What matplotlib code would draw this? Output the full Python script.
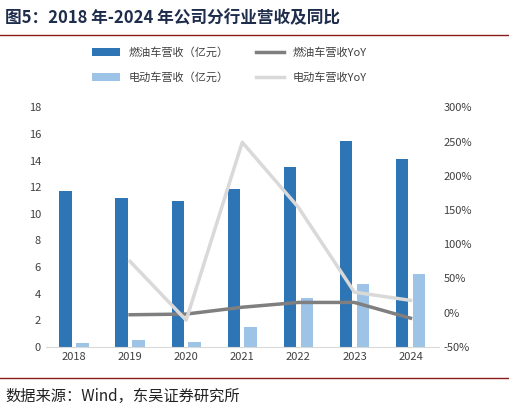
import matplotlib
matplotlib.use("Agg")
import matplotlib.pyplot as plt
import numpy as np
from matplotlib.ticker import FuncFormatter

plt.rcParams['font.family'] = ['Noto Sans CJK SC', 'DejaVu Sans']

years = ['2018', '2019', '2020', '2021', '2022', '2023', '2024']
fuel_rev = [11.7, 11.2, 11.0, 11.9, 13.5, 15.5, 14.1]
ev_rev = [0.3, 0.5, 0.4, 1.5, 3.7, 4.7, 5.5]
fuel_yoy = [None, -3, -2, 8, 15, 15, -8]
ev_yoy = [None, 75, -11, 249, 154, 30, 18]

fig = plt.figure(figsize=(5.10, 4.13), dpi=100)
ax = fig.add_axes([0.09, 0.16, 0.77, 0.58])
x = np.arange(len(years))
w = 0.22
ax.bar(x - 0.15, fuel_rev, w, color='#2E75B6', label='燃油车营收（亿元）')
ax.bar(x + 0.15, ev_rev, w, color='#9DC3E6', label='电动车营收（亿元）')
ax.set_ylim(0, 18)
ax.set_yticks(range(0, 19, 2))
ax.set_xticks(x)
ax.set_xticklabels(years)
ax.set_xlim(-0.5, len(years) - 0.5)
for s in ['top', 'right', 'left']:
    ax.spines[s].set_visible(False)
ax.spines['bottom'].set_color('#D9D9D9')
ax.tick_params(length=0, labelsize=8, colors='#404040')

ax2 = ax.twinx()
xs = x[1:]
ax2.plot(xs, fuel_yoy[1:], color='#7F7F7F', lw=2.5, label='燃油车营收YoY')
ax2.plot(xs, ev_yoy[1:], color='#D9D9D9', lw=2.5, label='电动车营收YoY')
ax2.set_ylim(-50, 300)
ax2.set_yticks(range(-50, 301, 50))
ax2.yaxis.set_major_formatter(FuncFormatter(lambda v, p: f'{int(v)}%'))
for s in ['top', 'right', 'left', 'bottom']:
    ax2.spines[s].set_visible(False)
ax2.tick_params(length=0, labelsize=8, colors='#404040')

h1, l1 = ax.get_legend_handles_labels()
h2, l2 = ax2.get_legend_handles_labels()
fig.legend([h1[0], h1[1], h2[0], h2[1]], [l1[0], l1[1], l2[0], l2[1]],
           loc='upper center', bbox_to_anchor=(0.45, 0.91),
           ncol=2, frameon=False, fontsize=8, columnspacing=2.5,
           labelspacing=1.3, labelcolor='#404040', handlelength=2.5)

fig.text(0.01, 0.955, '图5：2018 年-2024 年公司分行业营收及同比', fontsize=12,
         fontweight='bold', color='#1F2D4D', va='center')
fig.add_artist(plt.Line2D([0.0, 1.0], [0.915, 0.915], color='#8B1A1A', lw=1))
fig.add_artist(plt.Line2D([0.0, 1.0], [0.085, 0.085], color='#8B1A1A', lw=1))
fig.text(0.01, 0.04, '数据来源：Wind，东吴证券研究所', fontsize=11, color='#222222', va='center')

fig.savefig('out.png', dpi=100)
